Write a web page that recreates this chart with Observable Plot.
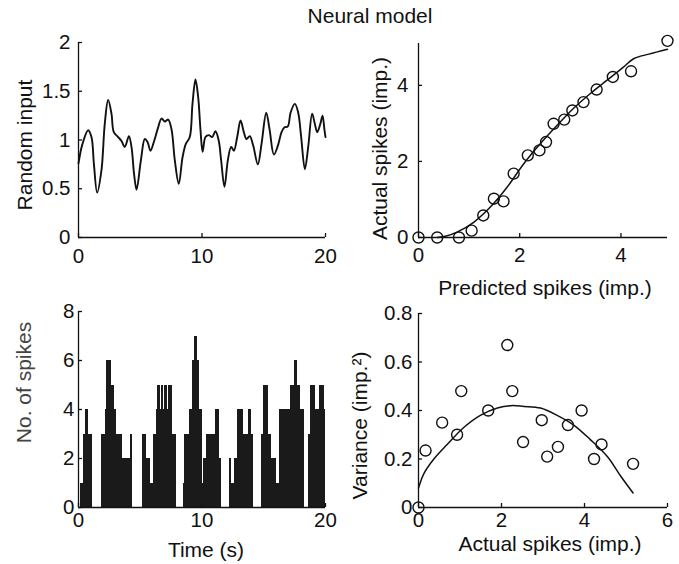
<!DOCTYPE html>
<html><head><meta charset="utf-8">
<script src="https://cdn.jsdelivr.net/npm/d3@7"></script>
<script src="https://cdn.jsdelivr.net/npm/@observablehq/plot@0.6"></script>
<style>
html,body{margin:0;padding:0;background:#fff;}
#wrap{position:relative;width:679px;height:564px;overflow:hidden;background:#fff;font-family:"Liberation Sans",Arial,Helvetica,sans-serif;color:#111;}
#title{position:absolute;left:270px;width:200px;top:5px;text-align:center;font-size:21px;line-height:21px;white-space:nowrap;}
.panel{position:absolute;}
</style></head><body>
<div id="wrap"><div id="title">Neural model</div></div>
<script>
// ---- Data ----
const inputTime = [0,0.3,0.78,1.05,1.25,1.51,1.86,2.13,2.40,2.67,2.86,3.21,3.48,3.75,4.08,4.29,4.50,4.70,5.05,5.37,5.59,5.83,6.10,6.45,6.72,6.99,7.26,7.53,7.80,8.12,8.42,8.69,9.01,9.23,9.47,9.69,9.88,10.05,10.28,10.55,10.82,11.09,11.36,11.55,11.82,12.09,12.36,12.58,12.85,13.12,13.39,13.60,13.87,14.15,14.52,14.82,15.20,15.47,15.82,16.14,16.44,16.68,16.95,17.17,17.52,17.79,18.03,18.33,18.60,18.92,19.13,19.33,19.59,19.76,19.92,20.0];
const inputValue = [0.76,0.95,1.10,1.03,0.75,0.46,0.69,1.17,1.41,1.27,1.08,1.03,0.99,0.93,1.04,0.93,0.65,0.49,0.79,1.01,0.98,0.89,0.98,1.13,1.22,1.19,1.21,1.11,0.79,0.55,0.82,0.96,1.03,1.37,1.62,1.44,1.10,0.88,1.03,1.05,1.03,1.09,0.99,0.79,0.52,0.79,0.93,0.89,1.03,1.20,1.08,1.01,1.04,0.94,0.75,0.96,1.28,1.11,0.85,0.94,1.08,1.13,1.14,1.28,1.37,1.28,1.03,0.70,0.93,1.27,1.17,1.08,1.17,1.25,1.10,1.03];

const binStart = [0.2,0.4,0.6,0.8,1.9,2.2,2.3,2.7,2.9,3.1,3.6,4.2,5.2,5.5,5.8,6.1,6.3,6.4,6.6,6.7,6.9,7.0,7.2,7.3,7.6,8.5,8.6,9.0,9.2,9.4,9.6,9.8,10.0,10.1,10.4,11.1,11.4,12.2,12.4,12.6,12.9,13.4,13.8,14.0,14.8,15.0,15.4,15.6,16.0,16.3,17.2,17.5,17.7,18.0,18.6,18.8,19.2,19.5,19.9];
const binEnd   = [0.4,0.6,0.8,1.1,2.2,2.3,2.7,2.9,3.1,3.6,4.2,4.4,5.5,5.8,6.1,6.3,6.4,6.6,6.7,6.9,7.0,7.2,7.3,7.6,7.9,8.6,9.0,9.2,9.4,9.6,9.8,10.0,10.1,10.4,11.1,11.4,11.6,12.4,12.6,12.9,13.4,13.8,14.0,14.2,15.0,15.4,15.6,16.0,16.3,17.2,17.5,17.7,18.0,18.3,18.8,19.2,19.5,19.9,20.0];
const spikeCount = [1,3,4,3,3,4,6,5,4,3,2,3,3,2,1,3,4,5,4,5,4,5,4,5,3,1,3,4,6,7,6,4,1,2,3,4,2,2,1,2,4,3,4,3,3,5,3,2,1,4,5,6,5,4,3,5,4,5,4];

const predicted = [0,0.37,0.80,1.05,1.28,1.49,1.68,1.88,2.16,2.39,2.52,2.67,2.88,3.04,3.26,3.52,3.84,4.20,4.92];
const actual    = [0,0,0,0.18,0.58,1.02,0.95,1.68,2.16,2.29,2.51,2.99,3.10,3.34,3.56,3.89,4.22,4.37,5.17];
const fitPredX = [0.37,0.55,0.76,1.09,1.42,1.75,2.08,2.41,2.74,3.06,3.39,3.72,4.05,4.25,4.55,4.92];
const fitPredY = [0,0.04,0.14,0.40,0.80,1.32,1.94,2.47,2.95,3.39,3.78,4.13,4.48,4.70,4.82,4.95];

const actualMean = [0,0.17,0.57,0.93,1.03,1.68,2.14,2.26,2.52,2.97,3.10,3.36,3.60,3.93,4.23,4.41,5.17];
const variance   = [0,0.235,0.35,0.30,0.48,0.40,0.67,0.48,0.27,0.36,0.21,0.25,0.34,0.40,0.20,0.26,0.18];
const fitVarX = [0,0.13,0.37,0.69,1.09,1.49,1.90,2.22,2.54,2.94,3.34,3.74,4.14,4.55,4.87,5.17];
const fitVarY = [0.08,0.14,0.20,0.26,0.33,0.38,0.41,0.42,0.417,0.41,0.38,0.34,0.28,0.21,0.13,0.06];

const ticksTime = [0,10,20];
const ticksInput = [0,0.5,1,1.5,2];
const ticksPred = [0,2,4];
const ticksActual = [0,2,4];
const ticksCount = [0,2,4,6,8];
const ticksMean = [0,2,4,6];
const ticksVar = [0,0.2,0.4,0.6,0.8];

// ---- Drawing ----
const FONT = '"Liberation Sans", Arial, Helvetica, sans-serif';
const wrap = document.getElementById("wrap");
const idx = n => d3.range(n);
const fmt = d => String(d);

function panel(cfg) {
  const iw = cfg.width - cfg.mL - cfg.mR, ih = cfg.height - cfg.mT - cfg.mB;
  const marks = [
    ...cfg.marks,
    Plot.ruleY([cfg.yDomain[0]], {stroke: "#111", strokeWidth: 1.3}),
    Plot.ruleX([cfg.xDomain[0]], {stroke: "#111", strokeWidth: 1.3}),
    Plot.tickX(cfg.xTicks, {x: d => d, insetTop: ih - 4, stroke: "#111", strokeWidth: 1.3}),
    Plot.tickY(cfg.yTicks, {y: d => d, insetRight: iw - 4, stroke: "#111", strokeWidth: 1.3}),
    Plot.axisX(cfg.xTicks, {tickSize: 0, tickPadding: cfg.xPad, label: null, fontSize: 20.5, tickFormat: fmt}),
    Plot.axisY(cfg.yTicks, {tickSize: 0, tickPadding: cfg.yPad, label: null, fontSize: 20.5, tickFormat: fmt}),
  ];
  if (cfg.yLabel) marks.push(Plot.text([cfg.yLabel], {frameAnchor: "left", text: d => d, rotate: -90, textAnchor: "middle", lineAnchor: "middle", dx: cfg.yl[0], dy: cfg.yl[1], fontSize: 21, fill: cfg.yLabelColor || "#111"}));
  if (cfg.xLabel) marks.push(Plot.text([cfg.xLabel], {frameAnchor: "bottom", text: d => d, textAnchor: "middle", lineAnchor: "middle", dx: cfg.xl[0], dy: cfg.xl[1], fontSize: 21, fill: "#111"}));
  const svg = Plot.plot({
    width: cfg.width, height: cfg.height,
    marginLeft: cfg.mL, marginRight: cfg.mR, marginTop: cfg.mT, marginBottom: cfg.mB,
    style: {fontFamily: FONT, fontSize: "20px", overflow: "visible", background: "transparent", color: "#111"},
    x: {domain: cfg.xDomain}, y: {domain: cfg.yDomain},
    marks
  });
  svg.classList.add("panel");
  svg.style.left = cfg.left + "px";
  svg.style.top = cfg.top + "px";
  svg.style.position = "absolute";
  wrap.appendChild(svg);
}

// Top-left: random input
panel({
  left: 0, top: 0, width: 340, height: 282, mL: 78, mR: 15, mT: 42, mB: 45,
  xDomain: [0, 20], yDomain: [0, 2], xTicks: ticksTime, yTicks: ticksInput, xPad: 11, yPad: 8,
  yLabel: "Random input", yl: [-53, 5],
  marks: [Plot.line(idx(inputTime.length), {x: i => inputTime[i], y: i => inputValue[i], stroke: "#111", strokeWidth: 1.9, curve: "catmull-rom"})]
});

// Top-right: predicted vs actual
panel({
  left: 340, top: 0, width: 339, height: 282, mL: 78, mR: 12, mT: 43, mB: 45,
  xDomain: [0, 4.92], yDomain: [0, 5.1], xTicks: ticksPred, yTicks: ticksActual, xPad: 10, yPad: 10,
  yLabel: "Actual spikes (imp.)", yl: [-38, 8],
  xLabel: "Predicted spikes (imp.)", xl: [2, 51],
  marks: [
    Plot.line(idx(fitPredX.length), {x: i => fitPredX[i], y: i => fitPredY[i], stroke: "#111", strokeWidth: 1.5, curve: "catmull-rom"}),
    Plot.dot(idx(predicted.length), {x: i => predicted[i], y: i => actual[i], r: 5.5, stroke: "#111", strokeWidth: 1.4, fill: "none"})
  ]
});

// Bottom-left: spike counts
panel({
  left: 0, top: 282, width: 340, height: 282, mL: 78, mR: 15, mT: 29, mB: 57,
  xDomain: [0, 20], yDomain: [0, 8], xTicks: ticksTime, yTicks: ticksCount, xPad: 5, yPad: 4,
  yLabel: "No. of spikes", yl: [-54, -27], yLabelColor: "#444",
  xLabel: "Time (s)", xl: [4, 43],
  marks: [Plot.rectY(idx(binStart.length), {x1: i => binStart[i], x2: i => binEnd[i], y: i => spikeCount[i], fill: "#1a1a1a", shapeRendering: "crispEdges"})]
});

// Bottom-right: variance vs mean
panel({
  left: 340, top: 282, width: 339, height: 282, mL: 78, mR: 12, mT: 31, mB: 57,
  xDomain: [0, 6], yDomain: [0, 0.8], xTicks: ticksMean, yTicks: ticksVar, xPad: 5, yPad: 6,
  yLabel: "Variance (imp.²)", yl: [-58, 15],
  xLabel: "Actual spikes (imp.)", xl: [7, 37],
  marks: [
    Plot.line(idx(fitVarX.length), {x: i => fitVarX[i], y: i => fitVarY[i], stroke: "#111", strokeWidth: 1.5, curve: "catmull-rom"}),
    Plot.dot(idx(actualMean.length), {x: i => actualMean[i], y: i => variance[i], r: 5.5, stroke: "#111", strokeWidth: 1.4, fill: "none"})
  ]
});
</script>
</body></html>
